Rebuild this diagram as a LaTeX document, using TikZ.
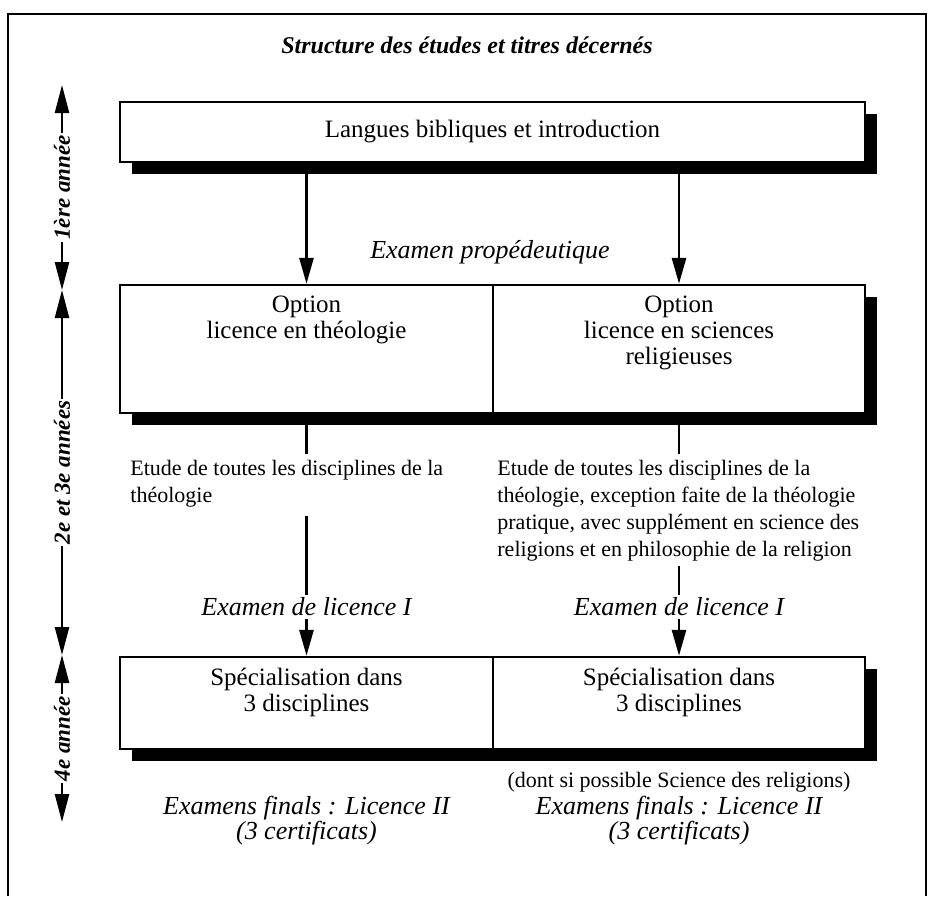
\documentclass[tikz,border=0pt]{standalone}
\usepackage{fontspec}
\setmainfont{Liberation Serif}
\usepackage{tikz}
\usetikzlibrary{arrows.meta,positioning,shadows}
\tikzset{
  frame/.style={draw=black, line width=0.8pt},
  box/.style={draw=black, line width=1.2pt, fill=white, rectangle, inner sep=0pt,
    drop shadow={shadow xshift=6pt, shadow yshift=-6pt, fill=black, opacity=1}},
  boxtxt/.style={align=center, font=\fontsize{12.5}{13}\selectfont, inner sep=0pt},
  note/.style={align=left, font=\fontsize{11}{13.5}\selectfont, inner sep=0pt},
  exam/.style={align=center, font=\fontsize{13}{12.5}\selectfont\itshape, inner sep=1pt},
  ttl/.style={font=\fontsize{12}{12}\selectfont\bfseries\itshape},
  conn/.style={draw=black, line width=1.4pt},
  arr/.style={conn, -{Triangle[length=13pt, width=7pt]}},
  axis/.style={draw=black, line width=1.2pt,
    {Triangle[length=14pt, width=7pt]}-{Triangle[length=14pt, width=7pt]}},
  axlab/.style={font=\fontsize{11.5}{11.5}\selectfont\bfseries\itshape, rotate=90,
    fill=white, inner sep=1pt},
}

\begin{document}
\begin{tikzpicture}[x=0.5pt, y=-0.5pt]
\useasboundingbox (0,0) rectangle (929,896);
\draw[frame] (8,896) -- (8,14) -- (926,14) -- (926,896);
\node[ttl] (title) at (467,45) {Structure des études et titres décernés};

% time axis
\coordinate (ax1) at (62,85);
\coordinate (ax2) at (62,290);
\coordinate (ax3) at (62,655);
\coordinate (ax4) at (62,822);
\draw[axis] (ax1) -- node[axlab] (yr1) {1ère année} (ax2);
\draw[axis] (ax2) -- node[axlab] (yr2) {2e et 3e années} (ax3);
\draw[axis] (ax3) -- node[axlab] (yr3) {4e année} (ax4);

% boxes
\node[box, minimum width=372.5pt, minimum height=30pt, font=\fontsize{12.5}{13}\selectfont]
  (top) at (492.5,132) {Langues bibliques et introduction};
\node[box, minimum width=186.5pt, minimum height=64pt] (optL) at (306.5,349) {};
\node[box, minimum width=186pt, minimum height=64pt] (optR) at (679,349) {};
\node[box, minimum width=186.5pt, minimum height=46pt] (specL) at (306.5,703) {};
\node[box, minimum width=186pt, minimum height=46pt] (specR) at (679,703) {};

\node[boxtxt, below=6pt of optL.north] (optLtxt) {Option\\licence en théologie};
\node[boxtxt, below=6pt of optR.north] (optRtxt) {Option\\licence en sciences\\religieuses};
\node[boxtxt, below=6pt of specL.north] (specLtxt) {Spécialisation dans\\3 disciplines};
\node[boxtxt, below=6pt of specR.north] (specRtxt) {Spécialisation dans\\3 disciplines};

% labels
\node[exam] (prop) at (490,252) {Examen propédeutique};
\node[note, anchor=north west] (etudeL) at (130,460)
  {Etude de toutes les disciplines de la\\théologie};
\node[note, anchor=north west] (etudeR) at (497,460)
  {Etude de toutes les disciplines de la\\théologie, exception faite de la théologie\\pratique, avec supplément en science des\\religions et en philosophie de la religion};
\node[exam] (exL) at (306.5,607) {Examen de licence I};
\node[exam] (exR) at (679,607) {Examen de licence I};
\node[note] (dont) at (679,782) {(dont si possible Science des religions)};
\node[exam] (finL) at (306.5,821) {Examens finals : Licence II\\(3 certificats)};
\node[exam] (finR) at (679,821) {Examens finals : Licence II\\(3 certificats)};

% connectors
\draw[arr] (optL |- top.south) -- (optL.north);
\draw[arr] (optR |- top.south) -- (optR.north);
\draw[conn, shorten >=3pt] (optL.south) -- (optL.south |- etudeL.north);
\draw[conn, shorten >=3pt] (optR.south) -- (optR.south |- etudeR.north);
\draw[conn, shorten <=4pt] (exL |- etudeL.south) -- (exL.north);
\draw[conn, shorten <=2pt] (exR |- etudeR.south) -- (exR.north);
\draw[arr] (exL.south) -- (specL.north);
\draw[arr] (exR.south) -- (specR.north);
\end{tikzpicture}
\end{document}
